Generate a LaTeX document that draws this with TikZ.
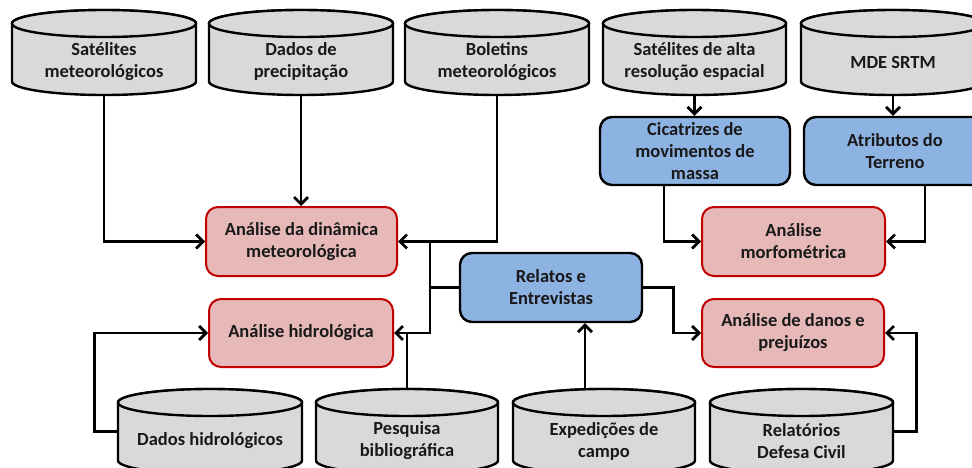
\documentclass[tikz,border=0pt]{standalone}
\usepackage{fontspec}
\setmainfont{Carlito}
\usetikzlibrary{arrows.meta,calc}
\definecolor{drumgray}{HTML}{D9D9D9}
\definecolor{boxred}{HTML}{E6B9B8}
\definecolor{edgered}{HTML}{C00000}
\definecolor{boxblue}{HTML}{8DB3E2}
\tikzset{
  drumline/.style={draw=black, line width=2.4pt, fill=drumgray},
  lbl/.style={font=\fontsize{18.5}{22}\selectfont\bfseries, align=center, inner sep=0pt, text=black!90},
  drumframe/.style={draw=none, inner sep=0pt, minimum width=#1, minimum height=85pt},
  anabox/.style={lbl, draw=edgered, line width=2pt, fill=boxred, rounded corners=12pt, minimum height=69pt},
  inbox/.style={lbl, draw=black, line width=2.4pt, fill=boxblue, rounded corners=12pt, minimum height=68pt},
  link/.style={draw=black, line width=2.7pt},
  arr/.style={link, -{Straight Barb[length=7pt,width=14pt]}}
}
% name, x left, x right, y top (pixels, downwards), text
\newcommand\drum[5]{%
  \pgfmathsetmacro\dcx{(#2+#3)/2}%
  \pgfmathsetmacro\drx{(#3-#2)/2}%
  \pgfmathsetmacro\dwd{#3-#2}%
  \pgfmathsetmacro\dya{-(#4+13.5)}%
  \pgfmathsetmacro\dyb{-(#4+71.5)}%
  \pgfmathsetmacro\dyc{-(#4+42.5)}%
  \pgfmathsetmacro\dyt{-(#4+52)}%
  \draw[drumline] (#2,\dya) -- (#2,\dyb)
     arc[start angle=180, end angle=360, x radius=\drx, y radius=13.5]
     -- (#3,\dya)
     arc[start angle=0, end angle=180, x radius=\drx, y radius=13.5] -- cycle;
  \draw[drumline] (\dcx,\dya) ellipse [x radius=\drx, y radius=13.5];
  \node[drumframe=\dwd pt] (#1) at (\dcx,\dyc) {};
  \node[lbl] (#1-t) at (\dcx,\dyt) {#5};
}
\begin{document}
\begin{tikzpicture}[x=1pt,y=1pt]
\useasboundingbox (0,0) rectangle (972,-468);
\clip (0,0) rectangle (972,-468);
\fill[white] (0,0) rectangle (972,-468);

% top data sources
\drum{sm}{12}{196}{10}{Satélites\\meteorológicos}
\drum{dp}{209}{393}{10}{Dados de\\precipitação}
\drum{bm}{405}{589}{10}{Boletins\\meteorológicos}
\drum{sa}{603}{786}{10}{Satélites de alta\\resolução espacial}
\drum{mde}{801}{985}{10}{MDE SRTM}

% bottom data sources
\drum{dh}{118}{302}{389}{Dados hidrológicos}
\drum{pb}{316}{498}{389}{Pesquisa\\bibliográfica}
\drum{ec}{513}{695}{389}{Expedições de\\campo}
\drum{rd}{710}{893}{389}{Relatórios\\Defesa Civil}

% intermediate products
\node[inbox, minimum width=190pt] (cic) at (695,-151) {Cicatrizes de\\movimentos de\\massa};
\node[inbox, minimum width=182pt] (atr) at (895,-151) {Atributos do\\Terreno};
\node[inbox, minimum width=182pt, minimum height=69pt] (rel) at (551,-287.5) {Relatos e\\Entrevistas};

% analyses
\node[anabox, minimum width=191pt] (din) at (301.5,-241.5) {Análise da dinâmica\\meteorológica};
\node[anabox, minimum width=184pt, minimum height=68pt] (hid) at (301,-333) {Análise hidrológica};
\node[anabox, minimum width=183pt] (mor) at (793.5,-241.5) {Análise\\morfométrica};
\node[anabox, minimum width=182pt, minimum height=68pt] (dan) at (793,-333) {Análise de danos e\\prejuízos};

% connectors
\coordinate (j1) at (430,-241.5);
\coordinate (e1) at (585,-389);
\coordinate (c1) at (664,-185);
\coordinate (a1) at (925,-185);

\draw[arr] (sm.south) |- (din.west);
\draw[arr] (dp.south) -- (dp.south |- din.north);
\draw[arr] (bm.south) |- (din.east);
\draw[arr] (j1) |- (hid.east);
\draw[link] (rel.west) -- (rel.west -| j1);
\draw[link] (pb.north) -- (pb.north |- hid.east);
\draw[arr] (dh.west) -- ++(-23,0) |- (hid.west);
\draw[arr] (e1) -- (e1 |- rel.south);
\draw[arr] (rel.east) -- ++(30,0) |- (dan.west);
\draw[arr] (rd.east) -- ++(23,0) |- (dan.east);
\draw[arr] (sa.south) -- (sa.south |- cic.north);
\draw[arr] (mde.south) -- (mde.south |- atr.north);
\draw[arr] (c1) |- (mor.west);
\draw[arr] (a1) |- (mor.east);
\end{tikzpicture}
\end{document}
